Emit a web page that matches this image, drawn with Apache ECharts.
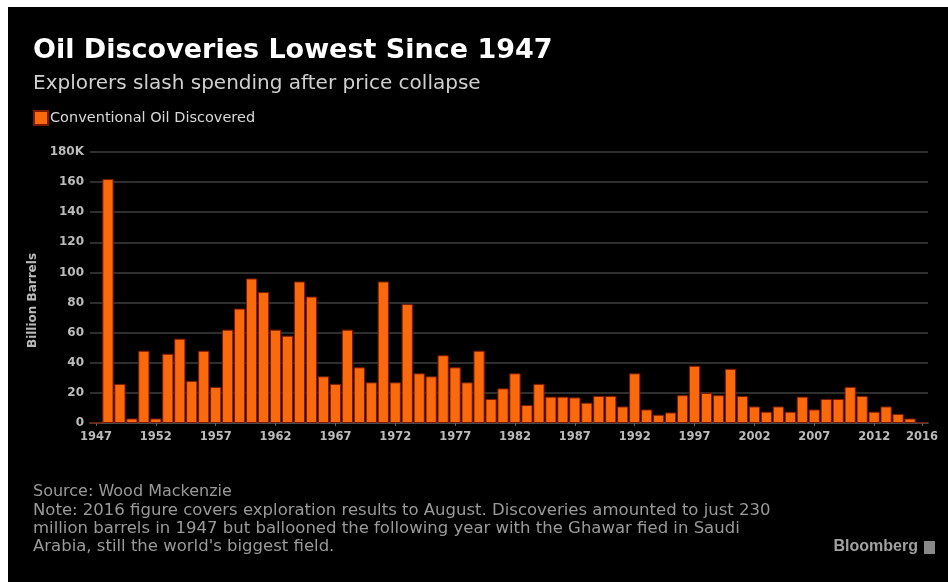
<!DOCTYPE html>
<html>
<head>
<meta charset="utf-8">
<script src="https://cdn.jsdelivr.net/npm/echarts@6/dist/echarts.min.js"></script>
<style>
html,body{margin:0;padding:0;background:#fff;width:948px;height:582px;overflow:hidden;}
#chart{position:absolute;left:8px;top:7px;width:940px;height:575px;background:#000;}
</style>
</head>
<body>
<div id="chart"></div>
<script>
const years = [];
for (let y = 1947; y <= 2016; y++) years.push(String(y));
const discovered = [
  0.23, 162, 26, 3, 48, 3, 46, 56, 28, 48,
  24, 62, 76, 96, 87, 62, 58, 94, 84, 31,
  26, 62, 37, 27, 94, 27, 79, 33, 31, 45,
  37, 27, 48, 16, 23, 33, 12, 26, 17.5, 17.5,
  17, 13.5, 18, 18, 11, 33, 9, 5.5, 7, 18.5,
  38, 20, 18.5, 36, 18, 11, 7.5, 11, 7.5, 17.5,
  9, 16, 16, 24, 18, 7.5, 11, 6, 3, 0.5
];
const yTicks = [0, 20, 40, 60, 80, 100, 120, 140, 160, 180];

const chart = echarts.init(document.getElementById('chart'));
const labelIdx = (i) => i % 5 === 0 || i === years.length - 1;
chart.setOption({
  backgroundColor: '#000',
  animation: false,
  title: [
    {text: 'Oil Discoveries Lowest Since 1947', left: 20, top: 25,
     textStyle: {color: '#fff', fontSize: 27, fontWeight: 'bold', fontFamily: 'DejaVu Sans'}},
    {text: 'Explorers slash spending after price collapse', left: 20, top: 62,
     textStyle: {color: '#d0d0d0', fontSize: 20, fontWeight: 'normal', fontFamily: 'DejaVu Sans'}}
  ],
  legend: {
    left: 20, top: 98, itemWidth: 14, itemHeight: 14, itemGap: 4,
    icon: 'rect',
    textStyle: {color: '#d8d8d8', fontSize: 14.5, fontFamily: 'DejaVu Sans', padding: [0,0,0,-3]},
    data: ['Conventional Oil Discovered']
  },
  grid: {left: 82, right: 20, top: 145, bottom: 159},
  xAxis: {
    type: 'category', data: years,
    axisLine: {lineStyle: {color: '#555', width: 1.5}},
    axisTick: {show: true, alignWithLabel: true, interval: labelIdx, length: 3, lineStyle: {color: '#666'}},
    axisLabel: {interval: labelIdx, color: '#bbb', fontSize: 11.5, fontWeight: 'bold', fontFamily: 'DejaVu Sans', margin: 8}
  },
  yAxis: {
    type: 'value', min: 0, max: 180, interval: 20,
    name: 'Billion Barrels', nameLocation: 'middle', nameGap: 50, nameRotate: 90,
    nameTextStyle: {color: '#bbb', fontSize: 12, fontWeight: 'bold', fontFamily: 'DejaVu Sans', padding: [0, 26, 0, 0]},
    axisLine: {show: false}, axisTick: {show: false},
    splitLine: {lineStyle: {color: '#2e2e2e', width: 2}},
    axisLabel: {color: '#bbb', fontSize: 12, fontWeight: 'bold', fontFamily: 'DejaVu Sans', margin: 6,
      formatter: (v) => yTicks.includes(v) ? (v === 180 ? '180K' : String(v)) : ''}
  },
  series: [{
    name: 'Conventional Oil Discovered', type: 'bar', data: discovered,
    barCategoryGap: '6%',
    itemStyle: {color: '#fa6a0c', borderColor: '#7a1a00', borderWidth: 1}
  }],
  graphic: [
    {type: 'text', left: 25, top: 477, style: {text: 'Source: Wood Mackenzie', fill: '#9a9a9a', font: '16px "DejaVu Sans"'}},
    {type: 'text', left: 25, top: 495, style: {
      text: 'Note: 2016 figure covers exploration results to August. Discoveries amounted to just 230\nmillion barrels in 1947 but ballooned the following year with the Ghawar fied in Saudi\nArabia, still the world\'s biggest field.',
      fill: '#9a9a9a', font: '16.5px "DejaVu Sans"', lineHeight: 18}},
    {type: 'text', right: 30, top: 532, style: {text: 'Bloomberg', fill: '#a0a0a0', font: 'bold 16px "Liberation Sans"'}},
    {type: 'rect', right: 13, top: 534, shape: {width: 11, height: 13}, style: {fill: '#888'}}
  ]
});
</script>
</body>
</html>
